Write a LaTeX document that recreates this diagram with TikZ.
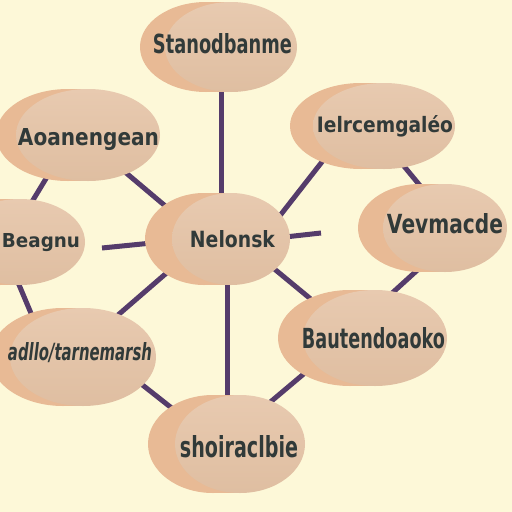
\documentclass[tikz,border=0pt]{standalone}
\usepackage{fontspec}
\setmainfont{DejaVu Sans}
\usepackage{graphicx}
\pgfdeclarelayer{bg}
\pgfsetlayers{bg,main}
\definecolor{bgcol}{HTML}{FDF8D8}
\definecolor{facetop}{HTML}{E8CAB0}
\definecolor{facebot}{HTML}{DFBEA1}
\definecolor{bodycol}{HTML}{E8BA95}
\definecolor{linkcol}{HTML}{553C6B}
\definecolor{txtcol}{HTML}{313A39}
\tikzset{
  discface/.style={ellipse, top color=facetop, bottom color=facebot, draw=none, inner sep=0pt},
  discbody/.style={fill=bodycol},
  lbltext/.style={anchor=base, inner sep=0pt, text=txtcol, font=\bfseries},
  link/.style={draw=linkcol, line width=5pt}
}
\usetikzlibrary{shapes.geometric}
\newcommand\mydisc[6]{% name, cx, cy, rx, ry, d
  \fill[discbody] (#2-#6,#3) ellipse [x radius=#4pt, y radius=#5pt];
  \fill[discbody] (#2-#6,#3-#5) rectangle (#2,#3+#5);
  \node[discface, minimum width=2*#4pt, minimum height=2*#5pt] (#1) at (#2,#3) {};
}
\newcommand\mylbl[6]{% name, xc, baseline, w, h, text
  \node[lbltext] (#1) at (#2,#3) {\resizebox{#4pt}{#5pt}{#6}};
}
\begin{document}
\begin{tikzpicture}[x=1pt,y=-1pt]
\begin{pgfonlayer}{bg}
  \fill[bgcol] (0,0) rectangle (512,512);
\end{pgfonlayer}
\useasboundingbox (0,0) rectangle (512,512);

\mydisc{n1}{231}{47}{66}{45}{25}
\mydisc{n2}{88}{135}{72}{46}{20}
\mydisc{n3}{384}{126}{71}{43}{23}
\mydisc{n4}{445}{228}{62}{44}{25}
\mydisc{n5}{20}{242}{65}{43}{20}
\mydisc{n6}{231}{239}{59}{46}{27}
\mydisc{n7}{375}{338}{72}{48}{25}
\mydisc{n8}{83}{357}{73}{49}{20}
\mydisc{n9}{240}{444}{65}{49}{27}

\mylbl{t1}{222.5}{53}{139}{20}{Stanodbanme}
\mylbl{t2}{88.5}{145}{141}{17}{Aoanengean}
\mylbl{t3}{385}{132}{136}{17}{Ielrcemgaléo}
\mylbl{t4}{445}{233}{116}{20}{Vevmacde}
\mylbl{t5}{41}{247}{78}{14}{Beagnu}
\mylbl{t6}{232.5}{247}{85}{17}{Nelonsk}
\mylbl{t7}{373.5}{348}{143}{21}{Bautendoaoko}
\mylbl{t8}{80}{360}{144}{18}{\itshape adllo/tarnemarsh}
\mylbl{t9}{239}{457}{118}{22}{shoiraclbie}

\coordinate (s6) at (321,233);

\begin{pgfonlayer}{bg}
  \draw[link] ([shift={(-10,38)}]n1.center) -- ([shift={(-10,-39)}]n6.center);
  \draw[link] ([shift={(37,37)}]n2.center) -- ([shift={(-55,-24)}]n6.center);
  \draw[link] ([shift={(-38,37)}]n2.center) -- ([shift={(10,-37)}]n5.center);
  \draw[link] ([shift={(82,6)}]n5.center) -- ([shift={(-69,3)}]n6.center);
  \draw[link] ([shift={(44,-17)}]n6.center) -- ([shift={(-59,32)}]n3.center);
  \draw[link] ([shift={(54,-2)}]n6.center) -- (s6);
  \draw[link] ([shift={(19,39)}]n3.center) -- ([shift={(-23,-40)}]n4.center);
  \draw[link] ([shift={(-22,37)}]n4.center) -- ([shift={(15,-43)}]n7.center);
  \draw[link] ([shift={(41,28)}]n6.center) -- ([shift={(-57,-33)}]n7.center);
  \draw[link] ([shift={(-61,31)}]n6.center) -- ([shift={(35,-42)}]n8.center);
  \draw[link] ([shift={(-3,38)}]n5.center) -- ([shift={(-50,-39)}]n8.center);
  \draw[link] ([shift={(-4,41)}]n6.center) -- ([shift={(-13,-42)}]n9.center);
  \draw[link] ([shift={(57,26)}]n8.center) -- ([shift={(-62,-31)}]n9.center);
  \draw[link] ([shift={(28,-40)}]n9.center) -- ([shift={(-69,34)}]n7.center);
\end{pgfonlayer}
\end{tikzpicture}
\end{document}
